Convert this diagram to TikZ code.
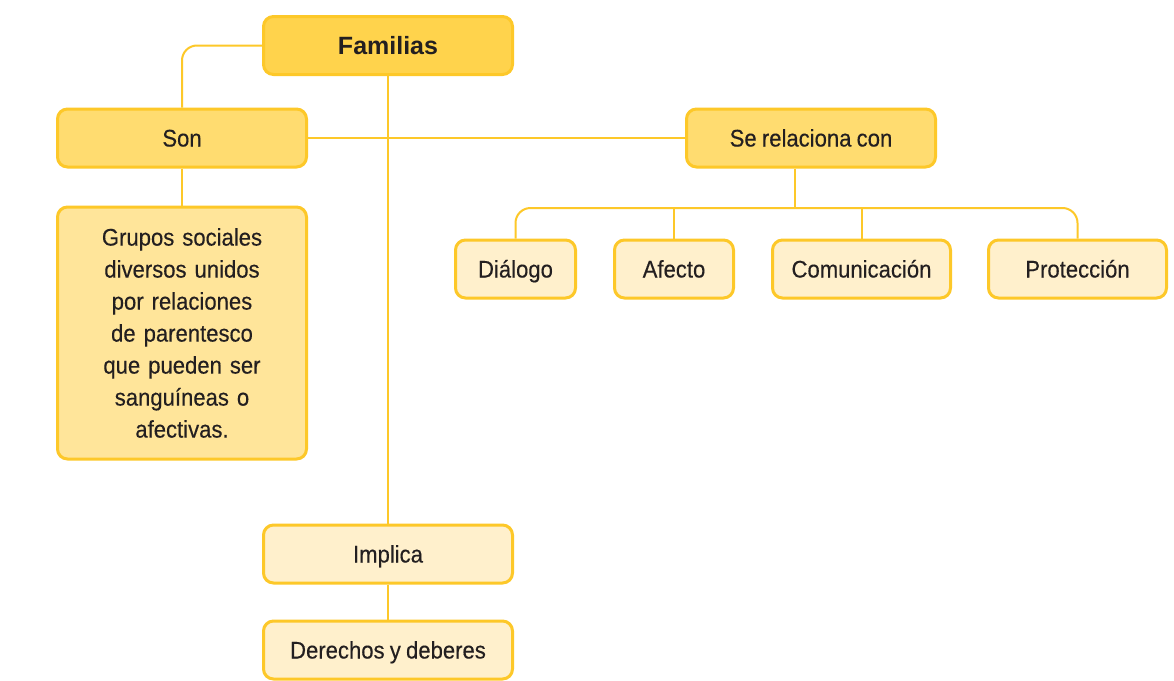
\documentclass[tikz,border=0pt]{standalone}
\usepackage{fontspec}
\setmainfont{Liberation Sans}[FakeStretch=0.92, FakeBold=0.3, WordSpace=0.85]
\newfontfamily\famfont{Liberation Sans}
\definecolor{boxline}{HTML}{FDC829}
\definecolor{fdark}{HTML}{FFD34C}
\definecolor{fmid}{HTML}{FFDC70}
\definecolor{fgrp}{HTML}{FFE59A}
\definecolor{flight}{HTML}{FFF0CC}
\definecolor{txt}{HTML}{231F20}
\begin{document}
\begin{tikzpicture}[x=1pt,y=-1pt,
  box/.style={draw=boxline, line width=3pt, rounded corners=10pt, minimum height=58pt,
    align=center, font=\fontsize{24}{32}\selectfont, text=txt, inner sep=0pt},
  oneline/.style={text height=20pt, text depth=3pt},
  conn/.style={draw=boxline, line width=2pt},
  roundbend/.style={rounded corners=15pt}]
\useasboundingbox (0,0) rectangle (1174,680);
\fill[white] (0,0) rectangle (1174,680);
\node[box, oneline, fill=fdark, minimum width=249pt, font=\famfont\fontsize{25}{32}\selectfont\bfseries] (fam) at (388,45.5) {Familias};
\node[box, oneline, fill=fmid, minimum width=249pt] (son) at (182,138) {Son};
\node[box, oneline, fill=fmid, minimum width=249pt] (rel) at (811,138) {Se relaciona con};
\node[box, fill=fgrp, minimum width=249pt, minimum height=252pt, text width=240pt] (grp) at (182,333)
  {Grupos sociales\\diversos unidos\\por relaciones\\de parentesco\\que pueden ser\\sanguíneas o\\afectivas.};
\node[box, oneline, fill=flight, minimum width=120pt] (dia) at (515.5,269) {Diálogo};
\node[box, oneline, fill=flight, minimum width=119pt] (afe) at (674,269) {Afecto};
\node[box, oneline, fill=flight, minimum width=178pt] (com) at (861.5,269) {Comunicación};
\node[box, oneline, fill=flight, minimum width=178pt] (pro) at (1077.5,269) {Protección};
\node[box, oneline, fill=flight, minimum width=249pt] (imp) at (388,554) {Implica};
\node[box, oneline, fill=flight, minimum width=249pt] (der) at (388,650) {Derechos y deberes};
\coordinate (bus) at (795,208);
\draw[conn, roundbend] (fam.west) -| (son.north);
\draw[conn] (fam.south) -- (imp.north);
\draw[conn] (son.east) -- (rel.west);
\draw[conn] (son.south) -- (grp.north);
\draw[conn] (imp.south) -- (der.north);
\draw[conn] (bus |- rel.south) -- (bus);
\draw[conn, roundbend] (dia.north) |- (bus) -| (pro.north);
\draw[conn] (afe.north) -- (afe.north |- bus);
\draw[conn] (com.north) -- (com.north |- bus);
\end{tikzpicture}
\end{document}
